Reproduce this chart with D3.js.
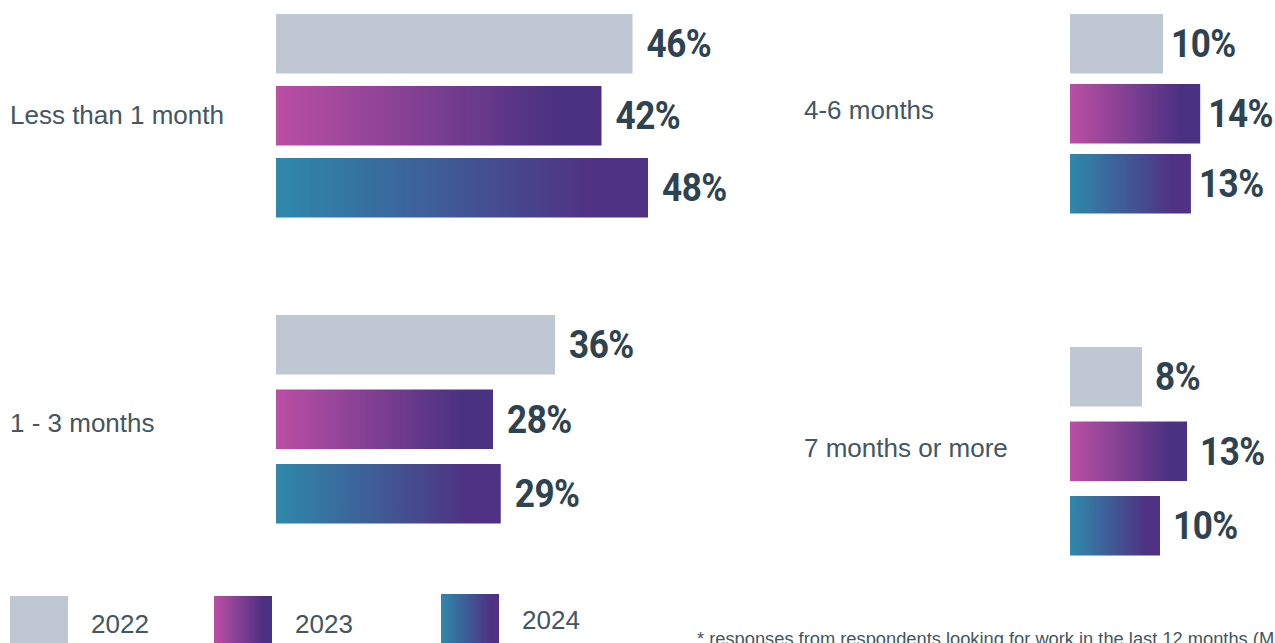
<!DOCTYPE html>
<html>
<head>
<meta charset="utf-8">
<script src="https://cdn.jsdelivr.net/npm/d3@7"></script>
<style>
  html, body { margin: 0; padding: 0; background: #ffffff; overflow: hidden; }
  svg { display: block; }
</style>
</head>
<body>
<svg id="chart" width="1275" height="643"></svg>
<script>
// ---- data ----
const categories = ["Less than 1 month", "1 - 3 months", "4-6 months", "7 months or more"];
const years = ["2022", "2023", "2024"];
const values2022 = [46, 36, 10, 8];
const values2023 = [42, 28, 14, 13];
const values2024 = [48, 29, 13, 10];
const footnote = "* responses from respondents looking for work in the last 12 months (M";

// ---- layout ----
const svg = d3.select("#chart");
const textColor = "#44565f";
const labelColor = "#2e434f";

const defs = svg.append("defs");
function grad(id, c0, c1) {
  const g = defs.append("linearGradient").attr("id", id)
    .attr("x1", "0%").attr("x2", "100%").attr("y1", "0%").attr("y2", "0%");
  g.append("stop").attr("offset", "0%").attr("stop-color", c0);
  g.append("stop").attr("offset", "85%").attr("stop-color", c1);
  g.append("stop").attr("offset", "100%").attr("stop-color", c1);
}
grad("g2023", "#bb4fa4", "#4b3182");
grad("g2024", "#2e89ab", "#4f3283");
const fills = { "2022": "#bfc7d2", "2023": "url(#g2023)", "2024": "url(#g2024)" };

// panel frames: which category, text position, bar origin, px per %, band top and step, label gap
const panels = [
  { cat: 0, textX: 10,  textY: 124, x0: 276,  pxPer: 7.75, top: 14,  step: 72,   gap: 14 },
  { cat: 1, textX: 10,  textY: 432, x0: 276,  pxPer: 7.75, top: 315, step: 74.5, gap: 14 },
  { cat: 2, textX: 804, textY: 119, x0: 1070, pxPer: 9.3,  top: 14,  step: 70,   gap: 8 },
  { cat: 3, textX: 804, textY: 457, x0: 1070, pxPer: 9.0,  top: 347, step: 74.5, gap: 13 }
];
const barH = 59.5;
const labelScaleX = 0.9;

const seriesByYear = { "2022": values2022, "2023": values2023, "2024": values2024 };

panels.forEach(p => {
  const x = d3.scaleLinear().domain([0, 10]).range([p.x0, p.x0 + 10 * p.pxPer]);
  const y = d3.scaleBand().domain(years)
    .range([p.top, p.top + p.step * 3 - (p.step - barH)])
    .paddingInner((p.step - barH) / p.step).paddingOuter(0);
  const rows = years.map(yr => ({ year: yr, value: seriesByYear[yr][p.cat] }));
  const g = svg.append("g");

  g.selectAll("rect").data(rows).join("rect")
    .attr("x", x(0))
    .attr("y", d => y(d.year))
    .attr("width", d => x(d.value) - x(0))
    .attr("height", y.bandwidth())
    .attr("fill", d => fills[d.year]);

  g.selectAll("text.val").data(rows).join("text")
    .attr("class", "val")
    .attr("transform", d => `translate(${x(d.value) + p.gap},${y(d.year) + y.bandwidth() / 2 + 13.5}) scale(${labelScaleX},1)`)
    .attr("fill", labelColor)
    .style("font-family", "Roboto, 'Liberation Sans', sans-serif")
    .style("font-weight", "bold")
    .style("font-size", "39px")
    .style("letter-spacing", "-0.5px")
    .text(d => d.value + "%");

  g.append("text")
    .attr("x", p.textX)
    .attr("y", p.textY)
    .attr("fill", textColor)
    .style("font-family", "'Liberation Sans', Arial, sans-serif")
    .style("font-size", "26px")
    .text(categories[p.cat]);
});

// ---- legend ----
const legendX = d3.scaleOrdinal().domain(years).range([10, 214, 441]);
const legendTop = { "2022": 596, "2023": 596, "2024": 594 };
const lg = svg.append("g");
lg.selectAll("rect").data(years).join("rect")
  .attr("x", d => legendX(d))
  .attr("y", d => legendTop[d])
  .attr("width", 58).attr("height", 60)
  .attr("fill", d => fills[d]);
lg.selectAll("text").data(years).join("text")
  .attr("x", d => legendX(d) + 81)
  .attr("y", d => d === "2024" ? 629 : 633)
  .attr("fill", textColor)
  .style("font-family", "'Liberation Sans', Arial, sans-serif")
  .style("font-size", "26px")
  .text(d => d);

// ---- footnote ----
svg.append("text")
  .attr("x", 697).attr("y", 645)
  .attr("fill", textColor)
  .style("font-family", "'Liberation Sans', Arial, sans-serif")
  .style("font-size", "18.3px")
  .text(footnote);
</script>
</body>
</html>
